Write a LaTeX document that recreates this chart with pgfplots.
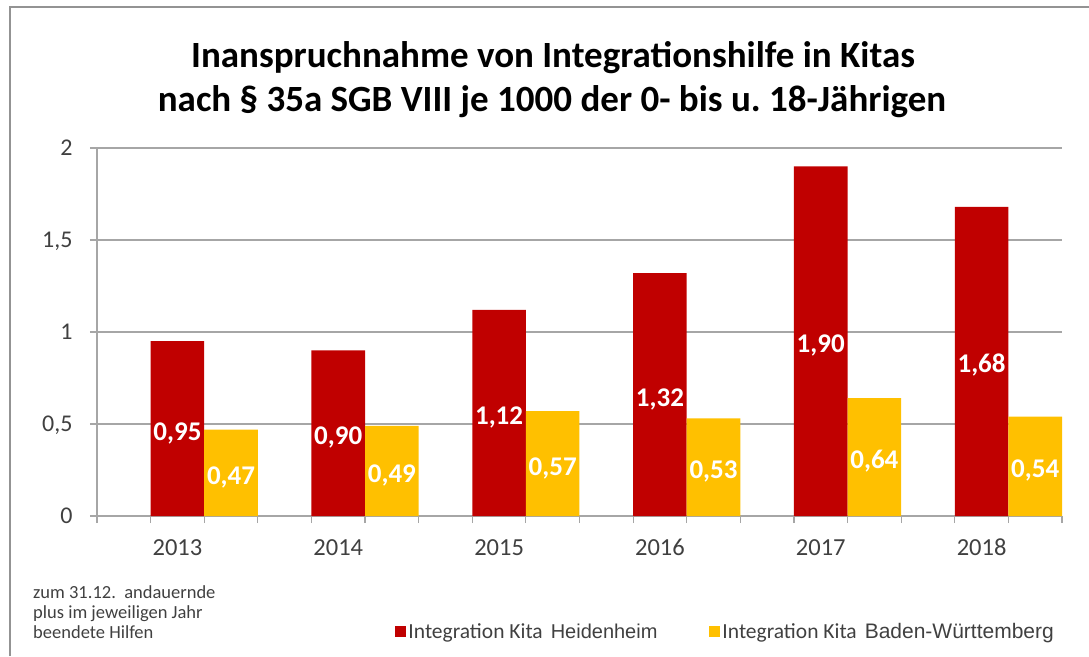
\documentclass[border=0pt]{standalone}
\usepackage{fontspec}
\setmainfont{Carlito}
\newfontfamily\arialf{Liberation Sans}
\usepackage{pgfplots}
\usepackage{pgfplotstable}
\pgfplotsset{compat=1.18}
\definecolor{barred}{HTML}{C00000}
\definecolor{baryel}{HTML}{FFC000}
\definecolor{gridc}{HTML}{A6A6A6}
\definecolor{txt}{HTML}{404040}
\pgfplotstableread{
x hd bw hdl bwl
0 0.95 0.47 0,95 0,47
1 0.90 0.49 0,90 0,49
2 1.12 0.57 1,12 0,57
3 1.32 0.53 1,32 0,53
4 1.90 0.64 1,90 0,64
5 1.68 0.54 1,68 0,54
}\data
\begin{document}
\begin{tikzpicture}[x=1pt,y=1pt]
\useasboundingbox (0,0) rectangle (1089,656);
\draw[gray!85, line width=2pt] (10,0) -- (10,649) -- (1089,649);
\node[anchor=base, font=\bfseries\fontsize{37}{42}\selectfont] at (553,588) {Inanspruchnahme von Integrationshilfe in Kitas};
\node[anchor=base, font=\bfseries\fontsize{37}{42}\selectfont] at (552,544) {nach § 35a SGB VIII je 1000 der 0- bis u.\ 18-Jährigen};
\node[anchor=north west, align=left, inner sep=0pt, text=txt, font=\fontsize{18.5}{20}\selectfont] at (33,71) {zum 31.12.\ \ andauernde\\plus im jeweiligen Jahr\\beendete Hilfen};
\begin{axis}[
  at={(97pt,140pt)}, anchor=south west,
  scale only axis, width=965pt, height=368pt,
  xmin=-0.5, xmax=5.5, ymin=0, ymax=2,
  axis lines*=left,
  axis line style={gridc, line width=1.2pt},
  ytick={0,0.5,1,1.5,2},
  yticklabels={0,{0,5},1,{1,5},2},
  ymajorgrids,
  grid style={gridc, line width=1.2pt},
  tick align=outside,
  major tick length=7pt,
  tick style={gridc, line width=1.2pt},
  yticklabel style={font=\fontsize{24}{28}\selectfont, text=txt, xshift=-14pt, text height=15pt, text depth=0pt},
  xtick={-0.5,-0.16667,0.16667,0.5,0.83333,1.16667,1.5,1.83333,2.16667,2.5,2.83333,3.16667,3.5,3.83333,4.16667,4.5,4.83333,5.16667,5.5},
  xticklabels={},
  extra x ticks={0,1,2,3,4,5},
  extra x tick labels={2013,2014,2015,2016,2017,2018},
  extra x tick style={major tick length=0pt, xticklabel style={font=\fontsize{24.5}{28}\selectfont, text=txt, yshift=-20pt, text height=16pt, text depth=0pt}},
  clip=false,
  legend columns=2,
  legend style={at={(0.306,-0.315)}, anchor=west, draw=none, fill=none,
    font=\fontsize{21.5}{24}\selectfont, text=txt,
    /tikz/every even column/.append style={column sep=50pt}},
  legend image code/.code={\fill[#1] (0pt,-5.5pt) rectangle (11pt,5.5pt);},
]
\addplot[ybar, bar width=53.6pt, bar shift=0pt, fill=barred, draw=none] table[x=x, y=hd] {\data};
\addlegendentry{Integration Kita\hspace{8pt}{\arialf\fontsize{20}{24}\selectfont Heidenheim}}
\addplot[ybar, bar width=53.6pt, bar shift=0pt, fill=baryel, draw=none] table[x expr=\thisrow{x}+0.33333, y=bw] {\data};
\addlegendentry{Integration Kita\hspace{8pt}{\arialf\fontsize{21}{24}\selectfont Baden-Württemberg}}
\addplot[draw=none, mark=none, forget plot, nodes near coords, point meta=explicit symbolic,
  every node near coord/.style={anchor=center, text=white, text height=17pt, text depth=0pt, yshift=-3pt, font=\bfseries\fontsize{27}{30}\selectfont}]
  table[x=x, y expr=\thisrow{hd}/2, meta=hdl] {\data};
\addplot[draw=none, mark=none, forget plot, nodes near coords, point meta=explicit symbolic,
  every node near coord/.style={anchor=center, text=white, text height=17pt, text depth=0pt, yshift=-3pt, font=\bfseries\fontsize{27}{30}\selectfont}]
  table[x expr=\thisrow{x}+0.33333, y expr=\thisrow{bw}/2, meta=bwl] {\data};
\end{axis}
\end{tikzpicture}
\end{document}
